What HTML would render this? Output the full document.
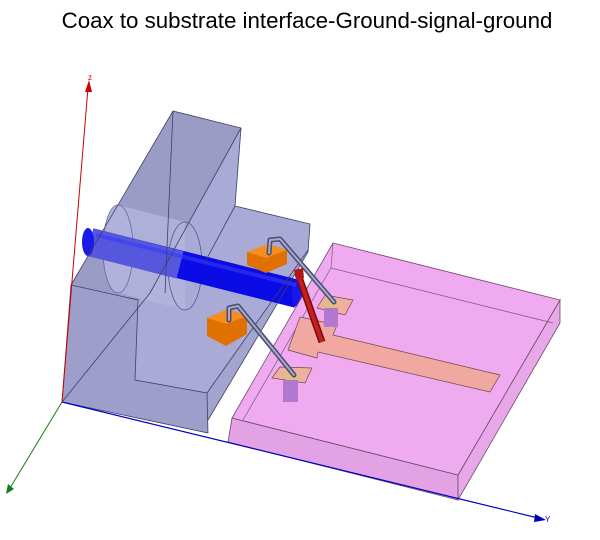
<!DOCTYPE html>
<html><head><meta charset="utf-8"><style>
html,body{margin:0;padding:0;background:#fff;width:600px;height:540px;overflow:hidden}
svg{display:block}
</style></head><body>
<svg width="600" height="540" viewBox="0 0 600 540" xmlns="http://www.w3.org/2000/svg">
<text x="307" y="28" text-anchor="middle" font-family="Liberation Sans, sans-serif" font-size="22.3" fill="#000">Coax to substrate interface-Ground-signal-ground</text>

<!-- block -->
<polygon points="173,111 241,128 235,206 310,224 308,252 208,420 208,433 62,402 71,285" fill="#a3a5cf"/>
<polygon points="71,285 138,300 135,380 207,393 208,433 62,402" fill="#9d9fca"/>
<polygon points="138,300 150,293 241,128 235,206 310,224 308,252 207,393 135,380" fill="#a9abd6"/>
<polygon points="173,111 241,128 150,293 138,300 71,285" fill="#9a9cc6"/>
<!-- hole -->
<polygon points="118,205 185,222 185,310 118,293" fill="#b3b5de" opacity="0.8"/>
<ellipse cx="118" cy="249" rx="15" ry="44" fill="#b0b2dc" stroke="#666a99" stroke-width="0.8"/>
<ellipse cx="185" cy="266" rx="17" ry="44" fill="none" stroke="#555888" stroke-width="0.8"/>
<!-- coax -->
<line x1="90" y1="242" x2="298" y2="294" stroke="#0b0be6" stroke-width="28"/>
<line x1="90" y1="242" x2="180" y2="265" stroke="#5557dd" stroke-width="28"/>
<ellipse cx="88" cy="242" rx="6" ry="14" fill="#1a1ae8"/>
<ellipse cx="298" cy="294" rx="6" ry="14" fill="#1818ee"/>
<line x1="96" y1="235" x2="296" y2="285" stroke="#3a3af5" stroke-width="4" opacity="0.6"/>
<!-- block edges -->
<g stroke="#3d3f66" stroke-width="0.8" fill="none">
<polyline points="71,285 173,111 241,128 235,206 310,224 308,252 208,420"/>
<polyline points="71,285 62,402 208,433 207,393 135,380 138,300 71,285"/>
<line x1="241" y1="128" x2="150" y2="293"/>
<line x1="173" y1="111" x2="165" y2="293"/>
<line x1="207" y1="393" x2="308" y2="250"/>
<line x1="62" y1="402" x2="150" y2="293"/>
<line x1="235" y1="206" x2="205" y2="262"/>
</g>
<!-- pads -->
<polygon points="247,252 268,244 287,250 287,264 266,273 247,265" fill="#e07000"/>
<polygon points="247,252 268,244 287,250 266,258" fill="#f59020"/>
<polygon points="207,318 228,309 247,316 247,334 226,346 207,336" fill="#e07000"/>
<polygon points="207,318 228,309 247,316 226,324" fill="#f59020"/>

<!-- substrate -->
<polygon points="232,418 458,475 458,500 228,442" fill="#e3a2e3" stroke="#6b4a6b" stroke-width="0.8"/>
<polygon points="458,475 560,300 560,323 458,500" fill="#e8a8e8" stroke="#6b4a6b" stroke-width="0.8"/>
<polygon points="333,243 560,300 458,475 232,418" fill="#f0aaf0" stroke="#6b4a6b" stroke-width="0.8"/>
<polyline points="243,420 331,268 553,323" fill="none" stroke="#7a5a7a" stroke-width="0.7"/>
<line x1="333" y1="243" x2="331" y2="268" stroke="#7a5a7a" stroke-width="0.7"/>
<!-- trace -->
<polygon points="300,317 337,325 333,335 500,375 490,392 318,352 317,358 288,350" fill="#f0a8a0" stroke="#6b4a4a" stroke-width="0.7"/>
<polygon points="325,295 353,300 345,315 317,308" fill="#f0b0a0" stroke="#6b4a4a" stroke-width="0.7"/>
<polygon points="280,367 312,368 305,383 272,378" fill="#f0b0a0" stroke="#6b4a4a" stroke-width="0.7"/>
<rect x="324" y="308" width="14" height="19" fill="#b078d0"/>
<rect x="283" y="380" width="15" height="22" fill="#b078d0"/>
<ellipse cx="331" cy="304" rx="7" ry="4" fill="#e0c080"/>
<ellipse cx="291" cy="376" rx="8" ry="4" fill="#e0c080"/>
<!-- wires -->
<g fill="none" stroke-linecap="round" stroke-linejoin="round">
<polyline points="269,253 270,240 280,239 334,302" stroke="#4a4c70" stroke-width="5"/>
<polyline points="269,253 270,240 280,239 334,302" stroke="#a8aacc" stroke-width="2"/>
<polyline points="229,320 229,308 238,306 294,375" stroke="#4a4c70" stroke-width="5"/>
<polyline points="229,320 229,308 238,306 294,375" stroke="#a8aacc" stroke-width="2"/>
</g>
<!-- red pin -->
<line x1="298" y1="274" x2="322" y2="342" stroke="#7a0a0a" stroke-width="7"/>
<line x1="298" y1="274" x2="322" y2="342" stroke="#c42020" stroke-width="4"/>
<polygon points="294,270 303,268 304,278 296,280" fill="#b01818"/>

<!-- axes -->
<line x1="62" y1="402" x2="88" y2="88" stroke="#d00000" stroke-width="1"/>
<polygon points="89,80 85,92 92,92" fill="#d00000"/>
<text x="88" y="80" font-family="Liberation Sans, sans-serif" font-size="8" fill="#d00000">z</text>
<line x1="62" y1="402" x2="10" y2="488" stroke="#1a7a1a" stroke-width="1"/>
<polygon points="6,494 8,484 14,489" fill="#1a7a1a"/>
<line x1="62" y1="402" x2="538" y2="518" stroke="#0000c0" stroke-width="1.2"/>
<polygon points="546,520 535,514 534,522" fill="#0000c0"/>
<text x="545" y="522" font-family="Liberation Sans, sans-serif" font-size="8" fill="#0000c0">Y</text>
</svg>
</body></html>
